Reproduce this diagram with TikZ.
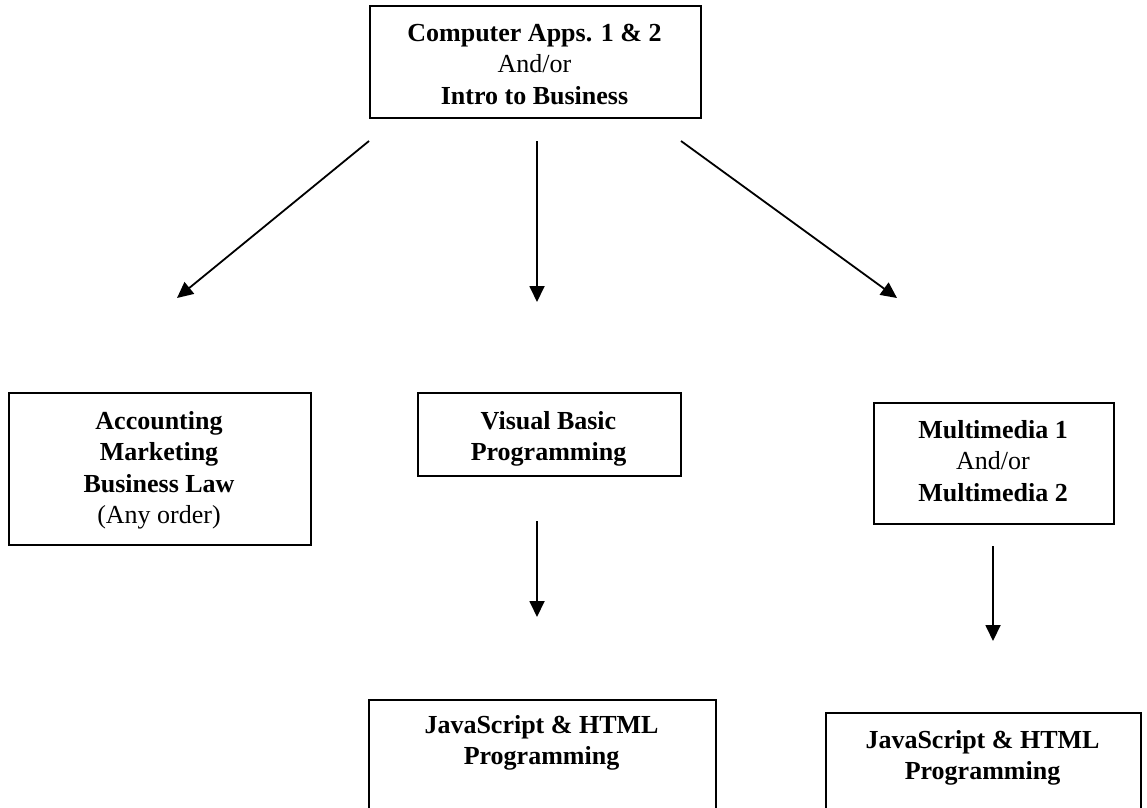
\documentclass[tikz,border=0pt]{standalone}
\usepackage{fontspec}
\setmainfont{Liberation Serif}
\usetikzlibrary{arrows.meta}
\begin{document}
\begin{tikzpicture}[x=1pt,y=-1pt,
  boxshape/.style={draw, line width=2.2pt, rectangle, inner sep=0pt, anchor=north west},
  boxtext/.style={anchor=north, inner sep=0pt, align=center, font=\fontsize{26}{31.5}\selectfont},
  flow/.style={line width=1.8pt, -{Triangle[length=16pt,width=15pt]}}]
\useasboundingbox (0,0) rectangle (1147,807);
\clip (0,0) rectangle (1147,807);
% boxes
\node[boxshape, minimum width=331pt, minimum height=112pt] (top) at (369,5) {};
\node[boxtext] (toptext) at (534.5,19) {\strut\textbf{Computer Apps. 1 \& 2}\\And/or\\\textbf{Intro to Business}};
\node[boxshape, minimum width=302pt, minimum height=152pt] (acc) at (8,392) {};
\node[boxtext] (acctext) at (159,407) {\strut\textbf{Accounting}\\\textbf{Marketing}\\\textbf{Business Law}\\(Any order)};
\node[boxshape, minimum width=263pt, minimum height=83pt] (vb) at (417,392) {};
\node[boxtext] (vbtext) at (548.5,407) {\strut\textbf{Visual Basic}\\\textbf{Programming}};
\node[boxshape, minimum width=240pt, minimum height=121pt] (mm) at (873,402) {};
\node[boxtext] (mmtext) at (993,416) {\strut\textbf{Multimedia 1}\\And/or\\\textbf{Multimedia 2}};
\node[boxshape, minimum width=347pt, minimum height=140pt] (js1) at (368,699) {};
\node[boxtext] (js1text) at (541.5,711) {\strut\textbf{JavaScript \& HTML}\\\textbf{Programming}};
\node[boxshape, minimum width=315pt, minimum height=140pt] (js2) at (825,712) {};
\node[boxtext] (js2text) at (982.5,726) {\strut\textbf{JavaScript \& HTML}\\\textbf{Programming}};
% arrow end points
\coordinate (a1s) at (369,141); \coordinate (a1e) at (177,298);
\coordinate (a2s) at (537,141); \coordinate (a2e) at (537,302);
\coordinate (a3s) at (681,141); \coordinate (a3e) at (897,298);
\coordinate (a4s) at (537,521); \coordinate (a4e) at (537,617);
\coordinate (a5s) at (993,546); \coordinate (a5e) at (993,641);
\draw[flow] (a1s) -- (a1e);
\draw[flow] (a2s) -- (a2e);
\draw[flow] (a3s) -- (a3e);
\draw[flow] (a4s) -- (a4e);
\draw[flow] (a5s) -- (a5e);
\end{tikzpicture}
\end{document}
